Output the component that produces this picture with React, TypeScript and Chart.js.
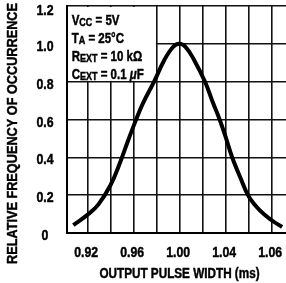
import { useEffect, useRef } from "react";
import { Chart, registerables } from "chart.js";

Chart.register(...registerables);

// Curve
const pulseWidthMs = [0.9075, 0.92, 0.9292, 0.94, 0.948, 0.9553, 0.962, 0.968, 0.9777, 0.9864, 0.994, 0.9995, 1.005, 1.0125, 1.0221, 1.029, 1.0342, 1.0394, 1.0455, 1.0525, 1.0603, 1.0699, 1.0803, 1.089];
const relFrequency = [0.042, 0.097, 0.15, 0.255, 0.37, 0.492, 0.598, 0.685, 0.8, 0.912, 0.982, 1.0, 0.984, 0.915, 0.798, 0.687, 0.608, 0.518, 0.402, 0.296, 0.19, 0.118, 0.066, 0.032];

// Axes
const xGridMs = [0.92, 0.94, 0.96, 0.98, 1.0, 1.02, 1.04, 1.06, 1.08];
const xLabelAt = [0.92, 0.96, 1.0, 1.04, 1.08];
const xLabelText = ["0.92", "0.96", "1.00", "1.04", "1.06"];
const xRange = [0.902, 1.0924];
const yTicks = [0, 0.2, 0.4, 0.6, 0.8, 1.0, 1.2];
const yTickText = ["0", "0.2", "0.4", "0.6", "0.8", "1.0", "1.2"];
const xTitle = "OUTPUT PULSE WIDTH (ms)";
const yTitle = "RELATIVE FREQUENCY OF OCCURRENCE";

// Condition box (text segments: [text, isSubscript])
const conditionLines: [string, boolean][][] = [
  [["V", false], ["CC", true], [" = 5V", false]],
  [["T", false], ["A", true], [" = 25°C", false]],
  [["R", false], ["EXT", true], [" = 10 kΩ", false]],
  [["C", false], ["EXT", true], [" = 0.1 ", false], ["μ", false], ["F", false]],
];
const boxCornerMs = 0.98;
const boxCornerVal = 0.8;

const FAMILY = "'Liberation Sans', Arial, Helvetica, sans-serif";
const NARROW = 0.82;

function narrowText(ctx: CanvasRenderingContext2D, txt: string, x: number, y: number, size: number, align: CanvasTextAlign, italic = false) {
  ctx.save();
  ctx.font = `${italic ? "italic " : ""}bold ${size}px ${FAMILY}`;
  ctx.textAlign = align;
  ctx.textBaseline = "alphabetic";
  ctx.translate(x, y);
  ctx.scale(NARROW, 1);
  ctx.fillText(txt, 0, 0);
  ctx.strokeStyle = "#000";
  ctx.lineWidth = 0.45;
  ctx.strokeText(txt, 0, 0);
  const w = ctx.measureText(txt).width * NARROW;
  ctx.restore();
  return w;
}

const decorPlugin = {
  id: "decor",
  beforeDatasetsDraw(chart: any) {
    const { ctx, chartArea, scales } = chart;
    const x = scales.x;
    const y = scales.y;
    const l = chartArea.left;
    const t = chartArea.top;
    const r = x.getPixelForValue(boxCornerMs);
    const b = y.getPixelForValue(boxCornerVal);
    ctx.save();
    ctx.fillStyle = "#ffffff";
    ctx.fillRect(l + 1, t + 1, r - l - 1.8, b - t - 1.8);
    ctx.fillStyle = "#000";
    conditionLines.forEach((segs, i) => {
      let cx = l + 4.7;
      const by = t + 18.5 + i * 18;
      segs.forEach(([txt, sub]) => {
        cx += narrowText(ctx, txt, cx, sub ? by + 1 : by, sub ? 11 : 14, "left", txt === "μ");
      });
    });
    ctx.restore();
  },
  afterDraw(chart: any) {
    const { ctx, scales } = chart;
    const x = scales.x;
    const y = scales.y;
    ctx.save();
    ctx.fillStyle = "#000";
    xLabelAt.forEach((v, i) => {
      narrowText(ctx, xLabelText[i], x.getPixelForValue(v) - 1.5, 256.5, 15, "center");
    });
    yTicks.forEach((v, i) => {
      narrowText(ctx, yTickText[i], 45, Math.max(y.getPixelForValue(v) + 7, 15), 15, "center");
    });
    narrowText(ctx, xTitle, 179.5, 278, 14.3, "center");
    ctx.translate(16.5, 133.5);
    ctx.rotate(-Math.PI / 2);
    narrowText(ctx, yTitle, 0, 0, 15.5, "center");
    ctx.restore();
  },
};

export default function App() {
  const ref = useRef<HTMLCanvasElement | null>(null);
  useEffect(() => {
    if (!ref.current) return;
    const chart = new Chart(ref.current, {
      type: "line",
      data: {
        datasets: [
          {
            data: pulseWidthMs.map((v, i) => ({ x: v, y: relFrequency[i] })),
            borderColor: "#000",
            borderWidth: 4,
            pointRadius: 0,
            tension: 0.4,
            fill: false,
          },
        ],
      },
      options: {
        animation: false,
        responsive: false,
        layout: { padding: { top: 6, right: 0, left: 0, bottom: 0 } },
        plugins: { legend: { display: false }, tooltip: { enabled: false } },
        scales: {
          x: {
            type: "linear",
            min: xRange[0],
            max: xRange[1],
            afterBuildTicks: (s: any) => {
              s.ticks = xGridMs.map((v) => ({ value: v }));
            },
            afterFit: (s: any) => {
              s.height = 50;
            },
            grid: { color: "#111", lineWidth: 1.6, drawTicks: false },
            border: { color: "#000", width: 2 },
            ticks: { display: false },
          },
          y: {
            min: 0,
            max: 1.2,
            afterBuildTicks: (s: any) => {
              s.ticks = yTicks.map((v) => ({ value: v }));
            },
            afterFit: (s: any) => {
              s.width = 67;
            },
            grid: { color: "#111", lineWidth: 1.6, drawTicks: false },
            border: { color: "#000", width: 2 },
            ticks: { display: false },
          },
        },
      },
      plugins: [decorPlugin],
    });
    return () => chart.destroy();
  }, []);
  return (
    <div style={{ position: "fixed", left: 0, top: 0, width: 286, height: 283, background: "#fff" }}>
      <canvas ref={ref} width={286} height={283} style={{ display: "block" }} />
    </div>
  );
}
